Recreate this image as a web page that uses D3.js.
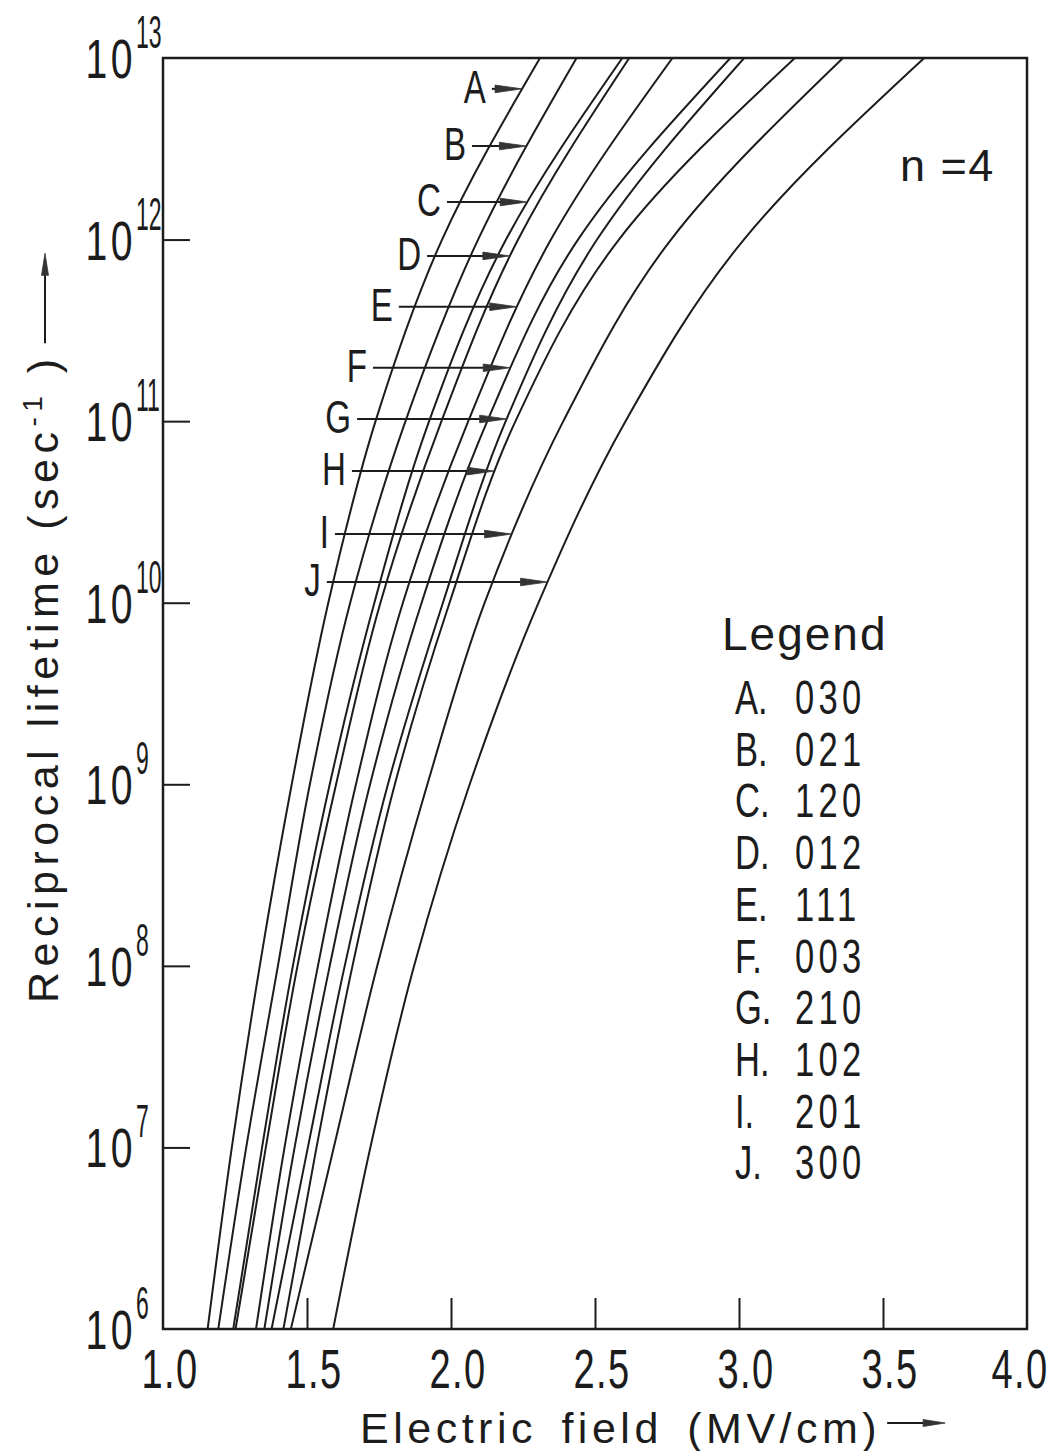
<!DOCTYPE html>
<html>
<head>
<meta charset="utf-8">
<script src="https://cdn.jsdelivr.net/npm/d3@7"></script>
<style>
  body { margin: 0; background: #fff; }
  svg { display: block; }
  text { font-family: "Liberation Sans", Arial, sans-serif; fill: #1c1c1c; }
</style>
</head>
<body>
<svg id="chart" width="1055" height="1451"></svg>
<script>
// log10 of the reciprocal lifetime at which each field value is given
const decades = [6, 7, 8, 9, 10, 11, 12, 13];

// Electric field (MV/cm) reaching each decade, one array per Stark state
const fieldA = [1.155, 1.239, 1.336, 1.447, 1.574, 1.738, 1.969, 2.309];
const fieldB = [1.192, 1.289, 1.399, 1.510, 1.650, 1.842, 2.094, 2.436];
const fieldC = [1.244, 1.344, 1.451, 1.579, 1.734, 1.924, 2.191, 2.595];
const fieldD = [1.252, 1.357, 1.467, 1.601, 1.755, 1.967, 2.233, 2.619];
const fieldE = [1.323, 1.422, 1.538, 1.670, 1.833, 2.060, 2.347, 2.769];
const fieldF = [1.352, 1.457, 1.579, 1.719, 1.898, 2.126, 2.441, 2.970];
const fieldG = [1.377, 1.503, 1.631, 1.781, 1.972, 2.190, 2.507, 3.018];
const fieldH = [1.418, 1.533, 1.658, 1.805, 1.995, 2.224, 2.583, 3.194];
const fieldI = [1.444, 1.593, 1.744, 1.918, 2.117, 2.390, 2.764, 3.361];
const fieldJ = [1.591, 1.720, 1.872, 2.065, 2.304, 2.606, 3.017, 3.643];

const curveLabels = ["A", "B", "C", "D", "E", "F", "G", "H", "I", "J"];
const stateCodes  = ["030", "021", "120", "012", "111", "003", "210", "102", "201", "300"];

// Label arrows: log10 rate where each arrow meets its curve, and field where its tail starts
const arrowLevel = [12.83, 12.515, 12.207, 11.91, 11.63, 11.294, 11.012, 10.725, 10.378, 10.114];
const arrowFrom  = [2.142, 2.073, 1.986, 1.917, 1.819, 1.729, 1.674, 1.656, 1.597, 1.569];

const xTickValues = [1.0, 1.5, 2.0, 2.5, 3.0, 3.5, 4.0];
const xTickLabels = ["1.0", "1.5", "2.0", "2.5", "3.0", "3.5", "4.0"];
const yTickExponents = [6, 7, 8, 9, 10, 11, 12, 13];

const series = [fieldA, fieldB, fieldC, fieldD, fieldE, fieldF, fieldG, fieldH, fieldI, fieldJ];

const ink = "#1c1c1c";
const svg = d3.select("#chart");
const frame = { left: 163, top: 58, right: 1027, bottom: 1329 };

const x = d3.scaleLinear().domain([1, 4]).range([frame.left, frame.right]);
const y = d3.scaleLog().domain([1e6, 1e13]).range([frame.bottom, frame.top]);

svg.append("defs").append("clipPath").attr("id", "plot-clip")
  .append("rect")
  .attr("x", frame.left).attr("y", frame.top)
  .attr("width", frame.right - frame.left).attr("height", frame.bottom - frame.top);

// inward ticks
const xAxis = svg.append("g")
  .attr("transform", `translate(0,${frame.bottom})`)
  .call(d3.axisBottom(x).tickValues([1.5, 2.0, 2.5, 3.0, 3.5]).tickSize(-31).tickSizeOuter(0).tickFormat(""));
const yAxis = svg.append("g")
  .attr("transform", `translate(${frame.left},0)`)
  .call(d3.axisLeft(y).tickValues([1e7, 1e8, 1e9, 1e10, 1e11, 1e12]).tickSize(-27).tickSizeOuter(0).tickFormat(""));
[xAxis, yAxis].forEach(g => {
  g.select(".domain").remove();
  g.selectAll(".tick line").attr("stroke", ink).attr("stroke-width", 2);
});

// frame
svg.append("rect")
  .attr("x", frame.left).attr("y", frame.top)
  .attr("width", frame.right - frame.left).attr("height", frame.bottom - frame.top)
  .attr("fill", "none").attr("stroke", ink).attr("stroke-width", 2.5);

// x tick labels (narrow lettering), kept inside the page on the right
svg.append("g").selectAll("text")
  .data(xTickValues)
  .join("text")
  .attr("transform", d => `translate(${Math.min(x(d) + 7, 1020)},1388) scale(0.68,1)`)
  .attr("text-anchor", "middle")
  .attr("font-size", 56)
  .attr("letter-spacing", 2)
  .text((d, i) => xTickLabels[i]);

// y tick labels: 10 with raised exponent
const yl = svg.append("g");
yTickExponents.forEach(e => {
  const yy = y(Math.pow(10, e));
  yl.append("text")
    .attr("transform", `translate(136,${yy + 20}) scale(0.7,1)`)
    .attr("text-anchor", "end")
    .attr("font-size", 56)
    .attr("letter-spacing", 5)
    .text("10");
  yl.append("text")
    .attr("transform", `translate(136,${yy - 10}) scale(0.5,1)`)
    .attr("text-anchor", "start")
    .attr("font-size", 46)
    .text(String(e));
});

// curves
const line = d3.line()
  .x(d => x(d.f))
  .y(d => y(Math.pow(10, d.k)))
  .curve(d3.curveMonotoneY);

const paths = svg.append("g").attr("clip-path", "url(#plot-clip)")
  .selectAll("path")
  .data(series.map(s => s.map((f, i) => ({ f, k: decades[i] }))))
  .join("path")
  .attr("d", line)
  .attr("fill", "none")
  .attr("stroke", ink)
  .attr("stroke-width", 2);

// x position on a drawn curve at a given screen y
function xOnPath(node, targetY) {
  let lo = 0, hi = node.getTotalLength();
  for (let it = 0; it < 40; it++) {
    const mid = (lo + hi) / 2;
    const p = node.getPointAtLength(mid);
    if (p.y > targetY) lo = mid; else hi = mid;
  }
  return node.getPointAtLength((lo + hi) / 2).x;
}

function arrow(g, x0, y0, x1, y1, headLen, headHalf) {
  const ang = Math.atan2(y1 - y0, x1 - x0);
  const bx = x1 - headLen * Math.cos(ang), by = y1 - headLen * Math.sin(ang);
  const sx = bx + headLen * 0.25 * Math.cos(ang), sy = by + headLen * 0.25 * Math.sin(ang);
  g.append("line")
    .attr("x1", x0).attr("y1", y0).attr("x2", sx).attr("y2", sy)
    .attr("stroke", ink).attr("stroke-width", 2);
  const nx = -Math.sin(ang) * headHalf, ny = Math.cos(ang) * headHalf;
  g.append("path")
    .attr("d", `M${x1},${y1} L${bx + nx},${by + ny} L${bx - nx},${by - ny} Z`)
    .attr("fill", "#333").attr("stroke", "#333").attr("stroke-width", 0.8);
}

// labelled arrows pointing at each curve
const ann = svg.append("g");
paths.each(function (d, i) {
  const yy = y(Math.pow(10, arrowLevel[i]));
  const tipX = xOnPath(this, yy);
  const tailX = x(arrowFrom[i]);
  arrow(ann, tailX, yy, tipX, yy, 27, 3.8);
  ann.append("text")
    .attr("transform", `translate(${tailX - 6},${yy + 14}) scale(0.72,1)`)
    .attr("text-anchor", "end")
    .attr("font-size", 46)
    .text(curveLabels[i]);
});

// n = 4
svg.append("text")
  .attr("x", 900).attr("y", 181)
  .attr("font-size", 45)
  .attr("letter-spacing", 1.5)
  .text("n =4");

// legend
svg.append("text")
  .attr("x", 722).attr("y", 650)
  .attr("font-size", 46)
  .attr("letter-spacing", 2)
  .text("Legend");
const leg = svg.append("g");
curveLabels.forEach((lab, i) => {
  const cy = 697 + i * 51.7;
  leg.append("text")
    .attr("transform", `translate(735,${cy + 17}) scale(0.72,1)`)
    .attr("font-size", 48)
    .text(lab + ".");
  leg.append("text")
    .attr("transform", `translate(795,${cy + 17}) scale(0.72,1)`)
    .attr("font-size", 48)
    .attr("letter-spacing", 6)
    .text(stateCodes[i]);
});

// x-axis title with arrow
const xt = svg.append("text")
  .attr("x", 360).attr("y", 1443)
  .attr("font-size", 43)
  .attr("letter-spacing", 4.5)
  .attr("word-spacing", 8)
  .text("Electric field (MV/cm)");
const xtEnd = 360 + xt.node().getComputedTextLength();
arrow(svg, xtEnd + 6, 1423, xtEnd + 64, 1423, 22, 3.5);

// y-axis title with arrow
const ytg = svg.append("g").attr("transform", "translate(58,1003) rotate(-90)");
const yt = ytg.append("text")
  .attr("x", 0).attr("y", 0)
  .attr("font-size", 43)
  .attr("letter-spacing", 5.5);
yt.append("tspan").text("Reciprocal lifetime (sec");
yt.append("tspan").attr("font-size", 28).attr("dy", -16).text("-1");
yt.append("tspan").attr("dy", 16).text(" )");
const ytEnd = yt.node().getComputedTextLength();
arrow(ytg, ytEnd + 10, -13, ytEnd + 100, -13, 22, 3.5);
</script>
</body>
</html>
